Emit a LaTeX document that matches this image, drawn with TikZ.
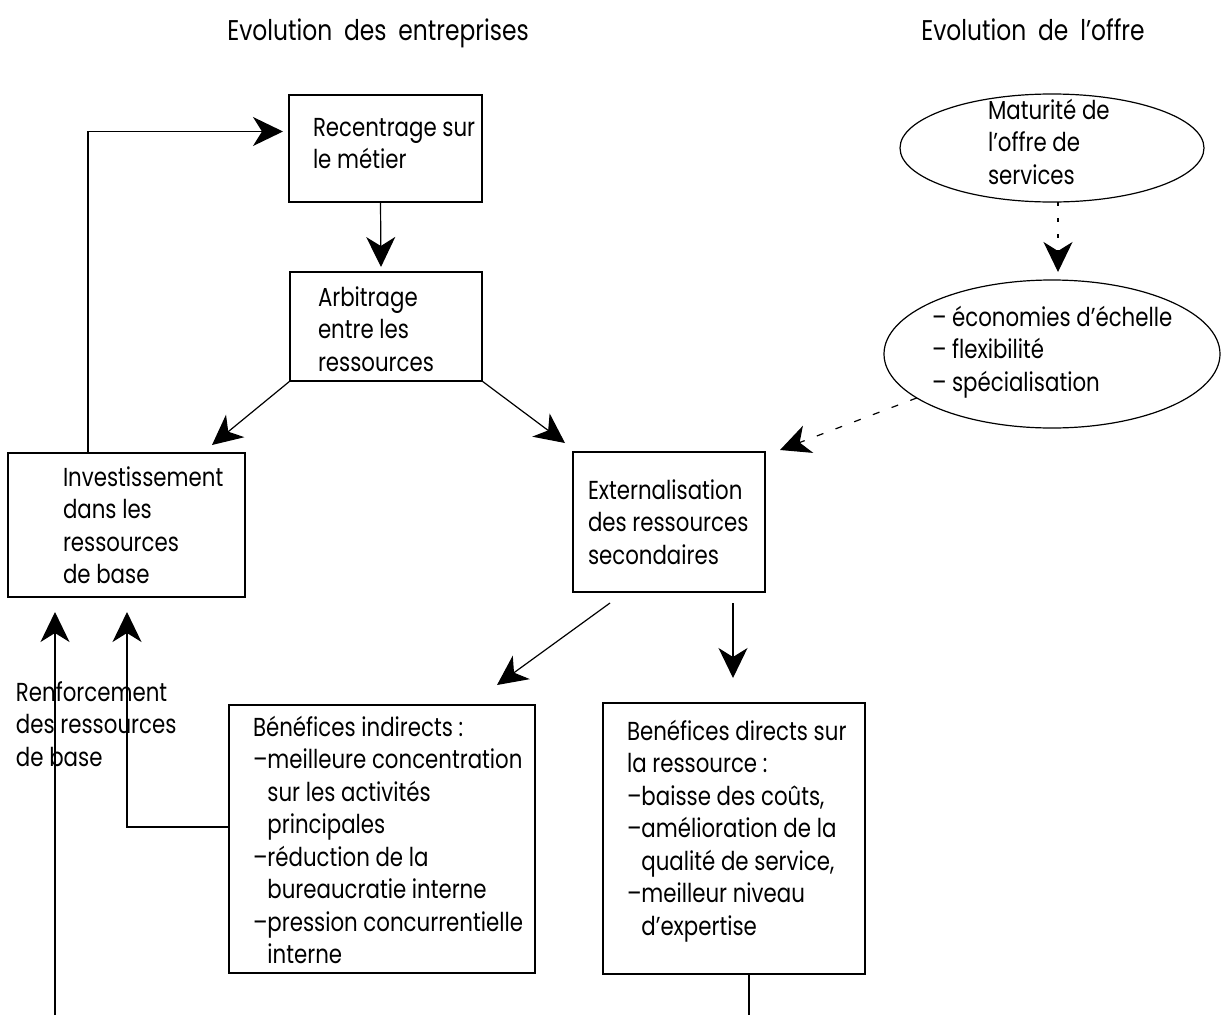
\documentclass[tikz,border=0pt]{standalone}
\usepackage{fontspec}
\setmainfont{Poppins}[FakeStretch=0.82]
\newfontfamily\ttlfam{Poppins}[FakeStretch=0.82,WordSpace=1.9]
\usetikzlibrary{arrows.meta,calc,shapes.geometric}
\newcommand{\dfont}{\fontsize{26pt}{32.5pt}\selectfont}
\newcommand{\tfont}{\ttlfam\fontsize{28.5pt}{34pt}\selectfont}
\newcommand{\mystrut}{\rule{0pt}{24pt}}
\newcommand{\ind}{\hphantom{–}}
\begin{document}
\begin{tikzpicture}[x=1pt,y=-1pt,
  every node/.style={inner sep=0pt,outer sep=0pt},
  box/.style={draw,line width=1.2pt,anchor=north west,rectangle},
  ell/.style={draw,line width=1.2pt,ellipse},
  txt/.style={anchor=north west,align=left,font=\dfont},
  ttl/.style={anchor=base,font=\tfont},
  arr/.style={line width=1.2pt,-{Stealth[length=30pt,width=29pt,inset=9pt]}},
  dotarr/.style={arr,dash pattern=on 4pt off 12pt},
  dasharr/.style={arr,dash pattern=on 7pt off 13pt}]
\useasboundingbox (0,0) rectangle (1221,1015);

% titles
\node[ttl] (ttlA) at (378,40) {Evolution des entreprises};
\node[ttl] (ttlB) at (1033,40) {Evolution de l’offre};

% boxes
\node[box,minimum width=193pt,minimum height=107pt] (rec) at (289,95) {};
\node[box,minimum width=192pt,minimum height=109pt] (arb) at (290,272) {};
\node[box,minimum width=237pt,minimum height=144pt] (inv) at (8,453) {};
\node[box,minimum width=192pt,minimum height=140pt] (ext) at (573,452) {};
\node[box,minimum width=306pt,minimum height=268pt] (ind) at (229,705) {};
\node[box,minimum width=262pt,minimum height=271pt] (dir) at (603,703) {};
\node[ell,minimum width=304pt,minimum height=108pt] (e1) at (1052,148) {};
\node[ell,minimum width=336pt,minimum height=148pt] (e2) at (1052,354) {};

% texts
\node[txt] (trec) at (313,112) {\mystrut Recentrage sur\\le métier};
\node[txt] (tarb) at (318,282) {\mystrut Arbitrage\\entre les\\ressources};
\node[txt] (tinv) at (63,462) {\mystrut Investissement\\dans les\\ressources\\de base};
\node[txt] (text) at (588,475) {\mystrut Externalisation\\des ressources\\secondaires};
\node[txt] (tind) at (253,712) {\mystrut Bénéfices indirects :\\–meilleure concentration\\\ind sur les activités\\\ind principales\\–réduction de la\\\ind bureaucratie interne\\–pression concurrentielle\\\ind interne};
\node[txt] (tdir) at (627,716) {\mystrut Benéfices directs sur\\la ressource :\\–baisse des coûts,\\–amélioration de la\\\ind qualité de service,\\–meilleur niveau\\\ind d’expertise};
\node[txt] (te1) at (988,95) {\mystrut Maturité de\\l’offre de\\services};
\node[txt] (te2) at (932,302) {\mystrut – économies d’échelle\\– flexibilité\\– spécialisation};
\node[txt] (tren) at (16,677) {\mystrut Renforcement\\des ressources\\de base};

% free ends
\coordinate (botL) at (55,1015);
\coordinate (botD) at (749,1015);

% connectors
\draw[arr] ([xshift=-5pt]rec.south) -- ([xshift=-5pt,yshift=5pt]arb.north);
\draw[arr] ([xshift=80pt]inv.north west) |- ([xshift=-6pt,yshift=17pt]rec.west);
\draw[arr] (arb.south west) -- ([xshift=-33pt,yshift=8pt]inv.north east);
\draw[arr] (arb.south east) -- ([xshift=-8pt,yshift=9pt]ext.north west);
\draw[arr] ([xshift=37pt,yshift=-11pt]ext.south west) -- ([xshift=-38pt,yshift=20pt]ind.north east);
\draw[arr] ([xshift=160pt,yshift=-11pt]ext.south west) -- ([xshift=130pt,yshift=25pt]dir.north west);
\draw[arr] (botL) -- ([xshift=47pt,yshift=-15pt]inv.south west);
\draw[arr] ([yshift=12pt]ind.west) -| ([xshift=119pt,yshift=-15pt]inv.south west);
\draw[line width=1.2pt] ([xshift=15pt]dir.south) -- (botD);
\draw[dotarr] ([xshift=6pt]e1.south) -- ([xshift=6pt,yshift=8pt]e2.north);
\draw[dasharr] (e2.198) -- ([xshift=15pt,yshift=2pt]ext.north east);
\end{tikzpicture}
\end{document}
